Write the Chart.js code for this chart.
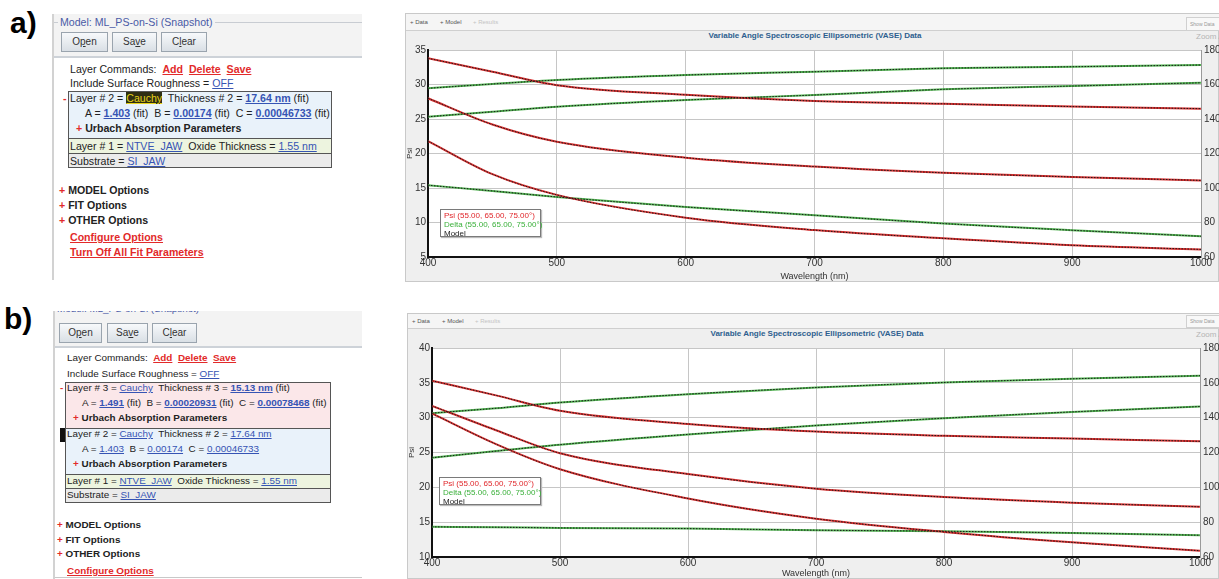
<!DOCTYPE html>
<html lang="en">
<head>
<meta charset="UTF-8">
<title>VASE fits</title>
<script src="https://cdn.jsdelivr.net/npm/chart.js"></script>
<style>
  body { margin: 0; width: 1219px; height: 579px; background: #fff; position: relative; overflow: hidden;
         font-family: 'Liberation Sans', Arial, sans-serif; }
  .abs { position: absolute; white-space: nowrap; }
  .lab { font-size: 30px; font-weight: bold; color: #000; }
  .t { font-size: 10.6px; line-height: 14px; color: #222; }
  .tb { font-size: 9.9px; line-height: 14px; color: #222; }
  .b { font-weight: bold; }
  .lnk { color: #3654b4; text-decoration: underline; }
  .blnk { color: #3654b4; text-decoration: underline; font-weight: bold; }
  .rl { color: #e22a2a; text-decoration: underline; font-weight: bold; }
  .plus { color: #e22a2a; font-weight: bold; }
  .btn { font-size: 10px; line-height: 18px; text-align: center; color: #333; border: 1px solid #9aa4ae;
         background: linear-gradient(#f7f9fb, #d9dfe5); box-sizing: border-box; height: 20px; }
  .box { border: 1px solid #555; box-sizing: border-box; }
  .frame { background: #efefef; border: 1px solid #c9c9c9; box-sizing: border-box; }
  .tool { font-size: 6px; color: #555; }
  .ctitle { font-size: 8px; font-weight: bold; color: #2d5e8e; text-align: center; }
  .legend { background: #fff; border: 1px solid #7a7a7a; box-shadow: 1px 1px 1px #bbb; font-size: 8px;
            line-height: 9px; padding: 1px 3px; box-sizing: border-box; }
  canvas { position: absolute; }
</style>
</head>
<body>
<!-- panel a : model -->
<div class="abs lab" style="left:10px;top:6px;">a)</div>
<div class="abs" style="left:52px;top:14px;width:310px;height:43px;background:#f3f3f3;"></div>
<div class="abs" style="left:52px;top:22px;width:310px;border-top:1px solid #c8ccd2;"></div>
<div class="abs" style="left:52px;top:14px;height:266px;border-left:2px solid #d2d2d2;"></div>
<div class="abs t" style="left:58px;top:15px;color:#4a5aa6;background:#f3f3f3;padding:0 2px;">Model: ML_PS-on-Si (Snapshot)</div>
<div class="abs btn" style="left:61px;top:32px;width:47px;">O<u>p</u>en</div>
<div class="abs btn" style="left:112px;top:32px;width:45px;">Sa<u>v</u>e</div>
<div class="abs btn" style="left:161px;top:32px;width:46px;">C<u>l</u>ear</div>
<div class="abs" style="left:54px;top:56px;width:308px;border-top:2px solid #cdd2d8;"></div>
<div class="abs t" style="left:70px;top:62px;">Layer Commands:&nbsp; <span class="rl">Add</span>&nbsp; <span class="rl">Delete</span>&nbsp; <span class="rl">Save</span></div>
<div class="abs t" style="left:70px;top:76px;">Include Surface Roughness = <span class="lnk">OFF</span></div>
<div class="abs box" style="left:68px;top:91px;width:264px;height:77px;background:#e9f2fa;"></div>
<div class="abs box" style="left:68px;top:138px;width:264px;height:16px;background:#edf4df;"></div>
<div class="abs box" style="left:68px;top:153px;width:264px;height:15px;background:#ebebeb;"></div>
<div class="abs t" style="left:63px;top:91px;color:#e22a2a;font-weight:bold;">-</div>
<div class="abs t" style="left:70px;top:91px;">Layer # 2 = <span class="lnk" style="background:#2e2e12;color:#e6d21a;">Cauchy</span>&nbsp; Thickness # 2 = <span class="blnk">17.64 nm</span> (fit)</div>
<div class="abs t" style="left:85px;top:106px;">A = <span class="blnk">1.403</span> (fit)&nbsp; B = <span class="blnk">0.00174</span> (fit)&nbsp; C = <span class="blnk">0.00046733</span> (fit)</div>
<div class="abs t b" style="left:76px;top:121px;"><span class="plus">+</span> Urbach Absorption Parameters</div>
<div class="abs t" style="left:70px;top:139px;">Layer # 1 = <span class="lnk">NTVE_JAW</span>&nbsp; Oxide Thickness = <span class="lnk">1.55 nm</span></div>
<div class="abs t" style="left:70px;top:154px;">Substrate = <span class="lnk">SI_JAW</span></div>
<div class="abs t b" style="left:59px;top:183px;"><span class="plus">+</span> MODEL Options</div>
<div class="abs t b" style="left:59px;top:198px;"><span class="plus">+</span> FIT Options</div>
<div class="abs t b" style="left:59px;top:213px;"><span class="plus">+</span> OTHER Options</div>
<div class="abs t" style="left:70px;top:230px;"><span class="rl">Configure Options</span></div>
<div class="abs t" style="left:70px;top:245px;"><span class="rl">Turn Off All Fit Parameters</span></div>

<!-- panel b : model -->
<div class="abs lab" style="left:4px;top:302px;">b)</div>
<div class="abs" style="left:53px;top:311px;width:309px;height:36px;background:#f3f3f3;overflow:hidden;">
  <div class="abs tb" style="left:4px;top:-9px;color:#4a5aa6;">Model: ML_PS-on-Si (Snapshot)</div>
</div>
<div class="abs" style="left:53px;top:311px;height:268px;border-left:2px solid #d2d2d2;"></div>
<div class="abs btn" style="left:59px;top:323px;width:43px;">O<u>p</u>en</div>
<div class="abs btn" style="left:107px;top:323px;width:41px;">Sa<u>v</u>e</div>
<div class="abs btn" style="left:152px;top:323px;width:45px;">C<u>l</u>ear</div>
<div class="abs" style="left:55px;top:346px;width:307px;border-top:2px solid #cdd2d8;"></div>
<div class="abs tb" style="left:67px;top:351px;">Layer Commands:&nbsp; <span class="rl">Add</span>&nbsp; <span class="rl">Delete</span>&nbsp; <span class="rl">Save</span></div>
<div class="abs tb" style="left:67px;top:367px;">Include Surface Roughness = <span class="lnk">OFF</span></div>
<div class="abs box" style="left:65px;top:382px;width:266px;height:47px;background:#fbe7e9;"></div>
<div class="abs box" style="left:65px;top:428px;width:266px;height:47px;background:#e9f2fa;"></div>
<div class="abs box" style="left:65px;top:474px;width:266px;height:15px;background:#edf4df;"></div>
<div class="abs box" style="left:65px;top:488px;width:266px;height:15px;background:#ebebeb;"></div>
<div class="abs tb" style="left:60px;top:381px;color:#e22a2a;font-weight:bold;">-</div>
<div class="abs" style="left:60px;top:428px;width:5px;height:14px;background:#111;"></div>
<div class="abs tb" style="left:67px;top:381px;">Layer # 3 = <span class="lnk">Cauchy</span>&nbsp; Thickness # 3 = <span class="blnk">15.13 nm</span> (fit)</div>
<div class="abs tb" style="left:82px;top:396px;">A = <span class="blnk">1.491</span> (fit)&nbsp; B = <span class="blnk">0.00020931</span> (fit)&nbsp; C = <span class="blnk">0.00078468</span> (fit)</div>
<div class="abs tb b" style="left:73px;top:411px;"><span class="plus">+</span> Urbach Absorption Parameters</div>
<div class="abs tb" style="left:67px;top:427px;">Layer # 2 = <span class="lnk">Cauchy</span>&nbsp; Thickness # 2 = <span class="lnk">17.64 nm</span></div>
<div class="abs tb" style="left:82px;top:442px;">A = <span class="lnk">1.403</span>&nbsp; B = <span class="lnk">0.00174</span>&nbsp; C = <span class="lnk">0.00046733</span></div>
<div class="abs tb b" style="left:73px;top:457px;"><span class="plus">+</span> Urbach Absorption Parameters</div>
<div class="abs tb" style="left:67px;top:474px;">Layer # 1 = <span class="lnk">NTVE_JAW</span>&nbsp; Oxide Thickness = <span class="lnk">1.55 nm</span></div>
<div class="abs tb" style="left:67px;top:488px;">Substrate = <span class="lnk">SI_JAW</span></div>
<div class="abs tb b" style="left:57px;top:518px;"><span class="plus">+</span> MODEL Options</div>
<div class="abs tb b" style="left:57px;top:533px;"><span class="plus">+</span> FIT Options</div>
<div class="abs tb b" style="left:57px;top:547px;"><span class="plus">+</span> OTHER Options</div>
<div class="abs tb" style="left:67px;top:564px;"><span class="rl">Configure Options</span></div>
<div class="abs" style="left:55px;top:577px;width:307px;border-top:1px solid #c8c8c8;"></div>

<!-- chart frames -->
<div class="abs frame" style="left:405px;top:13px;width:814px;height:269px;"></div>
<div class="abs" style="left:406px;top:14px;width:813px;height:16px;background:#f5f5f5;border-bottom:1px solid #cfcfcf;"></div>
<div class="abs tool" style="left:410px;top:19px;">+ Data</div>
<div class="abs tool" style="left:440px;top:19px;">+ Model</div>
<div class="abs tool" style="left:473px;top:19px;color:#c4c4c4;">+ Results</div>
<div class="abs tool" style="left:1186px;top:17px;width:40px;height:12px;border:1px solid #d0d0d0;background:#f8f8f8;color:#999;font-size:5px;line-height:12px;padding-left:3px;">Show Data</div>
<div class="abs ctitle" style="left:405px;top:31px;width:820px;">Variable Angle Spectroscopic Ellipsometric (VASE) Data</div>
<div class="abs" style="left:1196px;top:32px;font-size:8px;color:#b4b4b4;">Zoom A</div>
<canvas id="chartA" width="814" height="252" style="left:405px;top:30px;"></canvas>
<div class="abs legend" style="left:440px;top:209px;width:101px;height:28px;">
  <div style="color:#e0262a;">Psi (55.00, 65.00, 75.00°)</div>
  <div style="color:#3ab03a;">Delta (55.00, 65.00, 75.00°)</div>
  <div style="color:#222;">Model</div>
</div>

<div class="abs frame" style="left:407px;top:313px;width:812px;height:266px;"></div>
<div class="abs" style="left:408px;top:314px;width:811px;height:14px;background:#f5f5f5;border-bottom:1px solid #cfcfcf;"></div>
<div class="abs tool" style="left:412px;top:318px;">+ Data</div>
<div class="abs tool" style="left:442px;top:318px;">+ Model</div>
<div class="abs tool" style="left:475px;top:318px;color:#c4c4c4;">+ Results</div>
<div class="abs tool" style="left:1186px;top:315px;width:40px;height:11px;border:1px solid #d0d0d0;background:#f8f8f8;color:#999;font-size:5px;line-height:11px;padding-left:3px;">Show Data</div>
<div class="abs ctitle" style="left:407px;top:329px;width:820px;">Variable Angle Spectroscopic Ellipsometric (VASE) Data</div>
<div class="abs" style="left:1196px;top:330px;font-size:8px;color:#b4b4b4;">Zoom A</div>
<canvas id="chartB" width="812" height="251" style="left:407px;top:328px;"></canvas>
<div class="abs legend" style="left:439px;top:477px;width:102px;height:28px;">
  <div style="color:#e0262a;">Psi (55.00, 65.00, 75.00°)</div>
  <div style="color:#3ab03a;">Delta (55.00, 65.00, 75.00°)</div>
  <div style="color:#222;">Model</div>
</div>

<script>
    // wavelength grid (nm) shared by every curve
    const wavelengths = [400, 450, 500, 600, 700, 800, 900, 1000];

    // panel a: one Cauchy layer
    const psiA1 = [33.8, 31.85, 29.9, 28.5, 27.6, 27.2, 26.8, 26.5];
    const psiA2 = [28.0, 24.2, 21.7, 19.4, 18.1, 17.2, 16.6, 16.1];
    const psiA3 = [21.8, 17.0, 14.0, 10.7, 8.9, 7.7, 6.7, 6.1];
    const deltaA1 = [157.8, 160.3, 162.6, 165.5, 167.4, 169.4, 170.3, 171.3];
    const deltaA2 = [141.3, 144.2, 147.1, 151.0, 153.9, 157.2, 159.1, 161.0];
    const deltaA3 = [101.6, 98.3, 94.8, 89.0, 84.2, 79.4, 75.5, 72.0];

    // panel b: two Cauchy layers
    const psiB1 = [35.3, 33.2, 31.0, 29.1, 28.0, 27.4, 27.0, 26.6];
    const psiB2 = [31.7, 28.2, 24.9, 21.9, 19.8, 18.6, 17.8, 17.2];
    const psiB3 = [30.6, 26.2, 22.6, 18.4, 15.5, 13.6, 12.1, 10.9];
    const deltaB1 = [142.6, 145.4, 148.7, 153.5, 157.3, 160.2, 162.3, 164.1];
    const deltaB2 = [117.0, 120.8, 124.5, 130.4, 135.5, 139.7, 143.3, 146.4];
    const deltaB3 = [77.3, 77.1, 76.7, 76.3, 75.4, 74.8, 73.8, 72.5];

    // axis ranges [min, max, step]
    const xRange = [400, 1000, 100];
    const psiRangeA = [5, 35, 5];
    const psiRangeB = [10, 40, 5];
    const deltaRange = [60, 180, 20];

    const PSI_RED = '#d83030';
    const DELTA_GREEN = '#52b452';

    function toPoints(values) {
        return values.map((v, i) => ({ x: wavelengths[i], y: v }));
    }

    // every measured curve gets a coloured data line and a dotted black model line on top
    function curves(list, color, axis) {
        const sets = [];
        list.forEach(values => {
            sets.push({ data: toPoints(values), yAxisID: axis, borderColor: color, borderWidth: 2,
                        pointRadius: 0, cubicInterpolationMode: 'monotone', order: 2 });
            sets.push({ data: toPoints(values), yAxisID: axis, borderColor: '#1a1a1a', borderWidth: 1,
                        borderDash: [1.5, 1.5], pointRadius: 0, cubicInterpolationMode: 'monotone', order: 1 });
        });
        return sets;
    }

    function makeChart(id, psiSets, deltaSets, psiRange, box) {
        const tickFont = { family: 'Liberation Sans', size: 10 };
        new Chart(document.getElementById(id), {
            type: 'line',
            data: { datasets: curves(psiSets, PSI_RED, 'y').concat(curves(deltaSets, DELTA_GREEN, 'y2')) },
            options: {
                responsive: false,
                animation: false,
                layout: { padding: { top: box.top, left: 0, right: 0, bottom: 0 } },
                plugins: { legend: { display: false }, tooltip: { enabled: false } },
                scales: {
                    x: {
                        type: 'linear', min: xRange[0], max: xRange[1],
                        ticks: { stepSize: xRange[2], color: '#333', font: tickFont, padding: 0,
                                 callback: v => String(v) },
                        grid: { color: '#c6c6c6', drawTicks: false },
                        border: { color: '#111', width: 2 },
                        title: { display: true, text: 'Wavelength (nm)', color: '#333', padding: 0,
                                 font: { family: 'Liberation Sans', size: 9 } },
                        afterFit: s => { s.height = box.bottom; }
                    },
                    y: {
                        position: 'left', min: psiRange[0], max: psiRange[1],
                        ticks: { stepSize: psiRange[2], color: '#333', font: tickFont, padding: 2 },
                        grid: { color: '#c6c6c6', drawTicks: false },
                        border: { color: '#111', width: 2 },
                        title: { display: true, text: 'Psi', color: '#333', padding: 0,
                                 font: { family: 'Liberation Sans', size: 8 } },
                        afterFit: s => { s.width = box.left; }
                    },
                    y2: {
                        position: 'right', min: deltaRange[0], max: deltaRange[1],
                        ticks: { stepSize: deltaRange[2], color: '#333', font: tickFont, padding: 3 },
                        grid: { display: false, drawTicks: false },
                        border: { color: '#9a9a9a', width: 1 },
                        afterFit: s => { s.width = box.right; }
                    }
                }
            },
            plugins: [{
                id: 'plotBg',
                beforeDraw(chart) {
                    const a = chart.chartArea, c = chart.ctx;
                    c.save();
                    c.fillStyle = '#ffffff';
                    c.fillRect(a.left, a.top, a.right - a.left, a.bottom - a.top);
                    c.restore();
                }
            }]
        });
    }

    makeChart('chartA', [psiA1, psiA2, psiA3], [deltaA1, deltaA2, deltaA3], psiRangeA,
              { top: 20, bottom: 25, left: 23, right: 18 });
    makeChart('chartB', [psiB1, psiB2, psiB3], [deltaB1, deltaB2, deltaB3], psiRangeB,
              { top: 20, bottom: 22, left: 25, right: 19 });
</script>
</body>
</html>
